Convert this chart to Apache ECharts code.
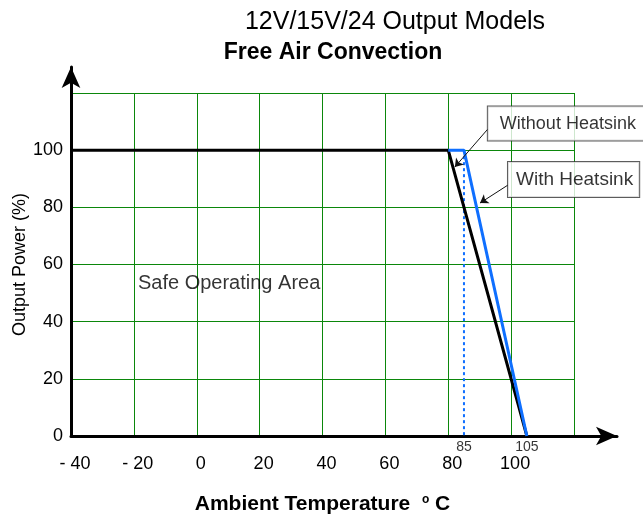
<!DOCTYPE html>
<html>
<head>
<meta charset="utf-8">
<script src="https://cdn.jsdelivr.net/npm/echarts@6/dist/echarts.min.js"></script>
<style>
  html, body { margin: 0; padding: 0; background: #fff; }
  #main { width: 643px; height: 516px; }
</style>
</head>
<body>
<div id="main"></div>
<script>
// derating curve, temperature in degC, power in %
var noSinkTemp = [-40, 80, 105];
var noSinkPower = [100, 100, 0];
var sinkTemp = [80, 85, 105];
var sinkPower = [100, 100, 0];
var dashTemp = [85, 85];
var dashPower = [100, 0];
var markTemps = [85, 105];

var xTickLabels = ['- 40', '- 20', '0', '20', '40', '60', '80', '100', ''];
var yTickLabels = ['0', '20', '40', '60', '80', '100', ''];

var FONT = '"Liberation Sans", Arial, sans-serif';
var GREEN = '#0b870b';
var BLUE = '#0f6fff';
var INK = '#000';

function pairs(xs, ys) {
    return xs.map(function (x, i) { return [x, ys[i]]; });
}

var myChart = echarts.init(document.getElementById('main'));
var option = {
    animation: false,
    textStyle: { fontFamily: FONT, color: INK },
    title: [{
        text: '12V/15V/24 Output Models',
        left: 390, top: 5, textAlign: 'center',
        textStyle: { fontFamily: FONT, fontSize: 25, fontWeight: 'normal', color: INK }
    }, {
        text: 'Free Air Convection',
        left: 328, top: 36, textAlign: 'center',
        textStyle: { fontFamily: FONT, fontSize: 23, fontWeight: 'bold', color: INK }
    }],
    grid: [
        { left: 71, right: 69, top: 93, bottom: 80, outerBoundsMode: 'none', containLabel: false },   // green plot area
        { left: 71, right: 26, top: 67, bottom: 80, outerBoundsMode: 'none', containLabel: false }    // black axes with arrows
    ],
    xAxis: [{
        type: 'value', gridIndex: 0, min: -40, max: 120, interval: 20,
        axisLine: { show: false }, axisTick: { show: false },
        splitLine: { lineStyle: { color: GREEN, width: 1 } },
        axisLabel: {
            margin: 19, fontSize: 18, color: INK, fontFamily: FONT, padding: [0, 0, 0, 8],
            formatter: function (v) { return xTickLabels[Math.round((v + 40) / 20)]; }
        },
        name: 'Ambient Temperature  {sup|o} C',
        nameLocation: 'middle', nameGap: 58, nameMoveOverlap: false,
        nameTextStyle: {
            fontFamily: FONT, fontSize: 21, fontWeight: 'bold', color: INK,
            rich: { sup: { fontFamily: FONT, fontSize: 12, fontWeight: 'bold', verticalAlign: 'top', color: INK, padding: [0, 0, 8, 0] } }
        }
    }, {
        type: 'value', gridIndex: 1, min: 0, max: 1,
        axisLine: { show: true, onZero: false, symbol: ['none', 'arrow'], symbolSize: [14, 21], lineStyle: { color: '#000', width: 3 } },
        axisTick: { show: false }, axisLabel: { show: false }, splitLine: { show: false }
    }],
    yAxis: [{
        type: 'value', gridIndex: 0, min: 0, max: 120, interval: 20,
        axisLine: { show: false }, axisTick: { show: false },
        splitLine: { lineStyle: { color: GREEN, width: 1 } },
        axisLabel: {
            margin: 8, fontSize: 18, color: INK, fontFamily: FONT,
            formatter: function (v) { return yTickLabels[Math.round(v / 20)]; }
        },
        name: 'Output Power (%)',
        nameLocation: 'middle', nameGap: 42, nameMoveOverlap: false,
        nameTextStyle: { fontFamily: FONT, fontSize: 18, color: INK }
    }, {
        type: 'value', gridIndex: 1, min: 0, max: 1,
        axisLine: { show: true, onZero: false, symbol: ['none', 'arrow'], symbolSize: [14, 21], lineStyle: { color: '#000', width: 3 } },
        axisTick: { show: false }, axisLabel: { show: false }, splitLine: { show: false }
    }],
    series: [{
        name: 'Without Heatsink',
        type: 'line', xAxisIndex: 0, yAxisIndex: 0,
        data: pairs(noSinkTemp, noSinkPower),
        symbol: 'none', z: 3,
        lineStyle: { color: '#000', width: 3 }
    }, {
        name: 'dash',
        type: 'line', xAxisIndex: 0, yAxisIndex: 0,
        data: pairs(dashTemp, dashPower),
        symbol: 'none', z: 2,
        lineStyle: { color: BLUE, width: 2, type: [3, 3] }
    }, {
        name: 'With Heatsink',
        type: 'line', xAxisIndex: 0, yAxisIndex: 0,
        data: pairs(sinkTemp, sinkPower),
        symbol: 'none', z: 4,
        lineStyle: { color: BLUE, width: 3 }
    }, {
        // 85 / 105 marks under the axis
        type: 'scatter', xAxisIndex: 0, yAxisIndex: 0,
        symbolSize: 0, silent: true,
        data: markTemps.map(function (t) { return [t, 0]; }),
        label: {
            show: true, position: 'bottom', distance: 4,
            fontFamily: FONT, fontSize: 14, color: INK,
            formatter: function (p) { return p.value[0]; }
        }
    }, {
        // text labels and boxed callouts
        type: 'scatter', xAxisIndex: 0, yAxisIndex: 0,
        symbolSize: 0, silent: true, z: 6,
        data: [{
            value: [-18.7, 53.2], name: 'Safe Operating Area',
            label: { fontSize: 20, color: INK }
        }, {
            value: [92.6, 109.3], name: 'Without Heatsink',
            label: { fontSize: 18, color: INK, backgroundColor: '#fff', borderColor: '#333', borderWidth: 1, padding: [8, 14, 8, 12] }
        }, {
            value: [99.0, 89.7], name: 'With Heatsink',
            label: { fontSize: 19, color: INK, backgroundColor: '#fff', borderColor: '#333', borderWidth: 1, padding: [8, 6, 8, 8] }
        }],
        label: {
            show: true, position: 'right', distance: 0,
            fontFamily: FONT, color: INK,
            formatter: function (p) { return p.name; }
        },
        markLine: {
            silent: true, animation: false,
            symbol: ['none', 'arrow'], symbolSize: 8,
            label: { show: false },
            lineStyle: { color: '#111', width: 1, type: 'solid' },
            data: [
                [{ coord: [92.6, 107.4] }, { coord: [82.1, 94.1] }],
                [{ coord: [99.0, 87.8] }, { coord: [90.1, 81.5] }]
            ]
        }
    }]
};
myChart.setOption(option);
</script>
</body>
</html>
